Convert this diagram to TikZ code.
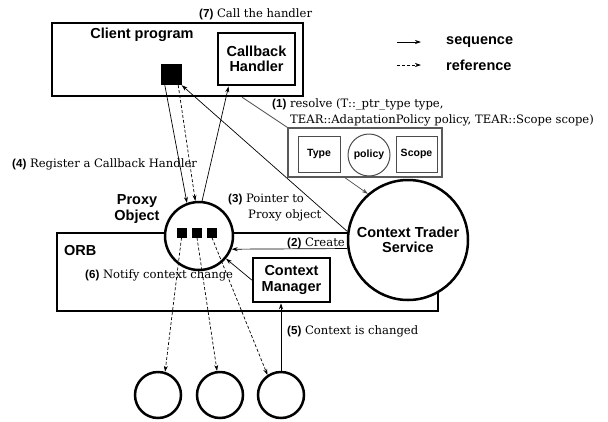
\documentclass[tikz,border=0pt]{standalone}
\usepackage{fontspec}
\setmainfont{DejaVu Serif}
\setsansfont{Liberation Sans}
\usetikzlibrary{arrows.meta,calc}
\begin{document}
\begin{tikzpicture}[x=1pt,y=-1pt,
  thickbox/.style={draw,line width=2.5pt,fill=white},
  boxlabel/.style={font=\sffamily\bfseries\fontsize{14.5}{15.5}\selectfont,align=center},
  smalllabel/.style={font=\sffamily\bfseries\fontsize{10.5}{12}\selectfont},
  captxt/.style={font=\fontsize{11.6}{13}\selectfont,anchor=west,inner sep=0pt},
  seq/.style={-{Stealth[length=6pt,width=4pt]},line width=0.7pt},
  ref/.style={-{Stealth[length=6pt,width=4pt]},line width=0.7pt,dash pattern=on 3pt off 2pt},
  greyline/.style={draw=black!65,line width=0.9pt}]
\useasboundingbox (0,0) rectangle (608,421);
\newcommand{\nb}[1]{{\sffamily\bfseries #1}}
% Client program
\node[thickbox,minimum width=251pt,minimum height=73pt,inner sep=0pt] (client) at (177.5,59.5) {};
\node[boxlabel] (clientlbl) at (142,35) {Client program};
\node[thickbox,line width=2.8pt,minimum width=77pt,minimum height=52pt,inner sep=0pt,boxlabel] (cbh) at (256.5,59) {Callback\\Handler};
\node[fill=black,minimum width=21pt,minimum height=21pt,inner sep=0pt] (sq) at (171,74.5) {};
\node[captxt] (l7) at (199,14) {\nb{(7)} Call the handler};
% legend
\coordinate (la1) at (397,42); \coordinate (lb1) at (421,42);
\coordinate (la2) at (397,65); \coordinate (lb2) at (421,65);
\draw[seq] (la1) -- (lb1);
\draw[ref] (la2) -- (lb2);
\node[boxlabel,anchor=west,inner sep=0pt] (lseq) at (446,42) {sequence};
\node[boxlabel,anchor=west,inner sep=0pt] (lref) at (446,65) {reference};
% (1) resolve
\node[captxt] (l1a) at (272,104) {\nb{(1)} resolve (T::\_ptr\_type type,};
\node[captxt] (l1b) at (290,120) {TEAR::AdaptationPolicy policy, TEAR::Scope scope)};
\node[draw=black!65,line width=1.2pt,minimum width=154pt,minimum height=49pt,inner sep=0pt] (param) at (365,152.5) {};
\node[draw=black!70,line width=1pt,minimum width=42pt,minimum height=36pt,inner sep=0pt,smalllabel] (type) at (319,154) {Type};
\node[draw=black!70,line width=1pt,circle,minimum size=42pt,inner sep=0pt,smalllabel] (policy) at (369,155) {policy};
\node[draw=black!70,line width=1pt,minimum width=41pt,minimum height=36pt,inner sep=0pt,smalllabel] (scope) at (416.5,154) {Scope};
% ORB
\node[draw,line width=2.5pt,minimum width=381pt,minimum height=78pt,inner sep=0pt] (orb) at (247.5,272) {};
\node[boxlabel,anchor=west,inner sep=0pt] (orblbl) at (64,251) {ORB};
% CTS
\node[thickbox,circle,minimum size=120pt,inner sep=0pt,boxlabel] (cts) at (408,240) {Context Trader\\Service};
% Proxy
\node[thickbox,circle,minimum size=68pt,inner sep=0pt] (proxy) at (199,236) {};
\node[boxlabel] (proxylbl) at (137,209) {Proxy\\Object};
\node[fill=black,minimum size=10pt,inner sep=0pt] (s1) at (181.5,232.5) {};
\node[fill=black,minimum size=10pt,inner sep=0pt] (s2) at (197,232.5) {};
\node[fill=black,minimum size=10pt,inner sep=0pt] (s3) at (212,232.5) {};
% Context manager
\node[thickbox,minimum width=77pt,minimum height=44pt,inner sep=0pt,boxlabel] (cm) at (291.5,280) {Context\\Manager};
% small circles
\node[draw,line width=2.5pt,circle,minimum size=46pt,inner sep=0pt] (c1) at (158,395) {};
\node[draw,line width=2.5pt,circle,minimum size=46pt,inner sep=0pt] (c2) at (220,395) {};
\node[draw,line width=2.5pt,circle,minimum size=46pt,inner sep=0pt] (c3) at (281,395) {};
% labels
\node[captxt] (l4) at (12,164) {\nb{(4)} Register a Callback Handler};
\node[captxt] (l3a) at (228,199) {\nb{(3)} Pointer to};
\node[captxt] (l3b) at (248,215) {Proxy object};
\node[captxt] (l2) at (287,243) {\nb{(2)} Create};
\node[captxt] (l6) at (85,275) {\nb{(6)} Notify context change};
\node[captxt] (l5) at (287,331) {\nb{(5)} Context is changed};
% connectors
\draw[greyline] ($(client.south west)!0.755!(client.south east)$) -- (param.north west);
\draw[seq,draw=black!70] ($(param.south west)!0.37!(param.south east)$) -- (cts.131);
\draw[seq] (cts.172) -- (sq.south east);
\draw[seq] (cts.188.6) -- (proxy.-22.5);
\draw[seq] (sq.-120) -- (proxy.110);
\draw[ref] (sq.-56) -- (proxy.96);
\draw[seq] (proxy.85) -- ($(cbh.south west)!0.15!(cbh.south east)$);
\draw[seq] (cm.west) -- (proxy.-40);
\draw[ref] (s1.south) -- (c1.73);
\draw[ref] (s2.south) -- (c2.97);
\draw[ref] (s3.south) -- (c3.124);
\draw[seq] (c3.north) -- (c3.north |- cm.south);
\end{tikzpicture}
\end{document}
